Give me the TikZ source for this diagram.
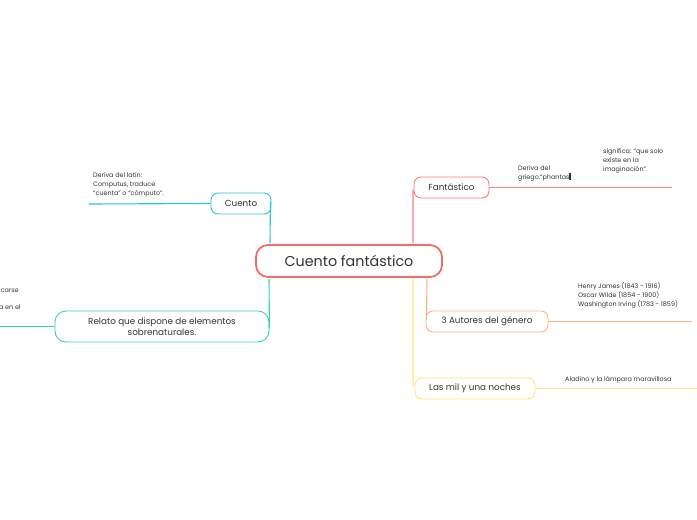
\documentclass[tikz,border=0pt]{standalone}
\usepackage{fontspec}
\setmainfont{Poppins}
\definecolor{cred}{HTML}{F26B6B}
\definecolor{ccyan}{HTML}{2CC3D8}
\definecolor{cgreen}{HTML}{3CD3A2}
\definecolor{cfant}{HTML}{F57E7E}
\definecolor{corange}{HTML}{FFB07E}
\definecolor{cyellow}{HTML}{FFE57A}
\definecolor{ctext}{HTML}{333333}
\begin{document}
\begin{tikzpicture}[x=1pt,y=-1pt,
  every node/.style={text=ctext, inner sep=0pt},
  branch/.style={line width=0.9pt, rounded corners=7pt, fill=white, font=\fontsize{8.8}{10.5}\selectfont},
  note/.style={anchor=north west, align=left, font=\fontsize{6.4}{9.3}\selectfont},
  conn/.style={line width=1.1pt},
  lead/.style={line width=1.1pt}]
\useasboundingbox (0,0) rectangle (697,520);
\fill[white] (0,0) rectangle (697,520);

% central node
\node[draw=cred, line width=1.8pt, rounded corners=12pt, fill=white,
      minimum width=186pt, minimum height=32pt,
      font=\fontsize{14.3}{16}\selectfont] (center) at (349,261) {Cuento fantástico};

% branch nodes
\node[branch, draw=ccyan, minimum width=60pt, minimum height=21pt] (cuento) at (241,203.5) {Cuento};
\node[branch, draw=cgreen, minimum width=214pt, minimum height=31pt, align=center, rounded corners=11pt] (relato) at (162,326.5) {Relato que dispone de elementos\\sobrenaturales.};
\node[branch, draw=cfant, minimum width=75pt, minimum height=21pt] (fant) at (451.5,187.5) {Fantástico};
\node[branch, draw=corange, minimum width=122pt, minimum height=21pt] (autores) at (487,321.5) {3 Autores del género};
\node[branch, draw=cyellow, minimum width=120pt, minimum height=21pt] (mil) at (475,388.5) {Las mil y una noches};

% connectors from centre
\draw[conn, draw=ccyan] ([xshift=-79pt,yshift=1pt]center.north) -- ([xshift=-1pt,yshift=2pt]cuento.east);
\draw[conn, draw=cgreen] ([xshift=-80pt,yshift=-1pt]center.south) -- ([yshift=-2pt]relato.east);
\draw[conn, draw=cfant] ([xshift=64pt,yshift=1pt]center.north) -- ([xshift=-0.6pt,yshift=-2pt]fant.west);
\draw[conn, draw=cyellow] ([xshift=64pt,yshift=-1pt]center.south) -- ([xshift=-1.5pt,yshift=2pt]mil.west);
\draw[conn, draw=corange] ([xshift=78pt,yshift=-1pt]center.south) -- ([xshift=1pt,yshift=2pt]autores.west);

% leads
\coordinate (cuentoL) at (89,204);
\coordinate (relatoL) at (0,326.5);
\coordinate (fantR) at (672,187.5);
\coordinate (autoresR) at (692,321.5);
\coordinate (milR) at (697,388.5);
\draw[lead, draw=ccyan] (cuento.west) -- (cuentoL);
\draw[lead, draw=cgreen] (relato.west) -- (relatoL);
\draw[lead, draw=cfant] (fant.east) -- (fantR);
\draw[lead, draw=corange] (autores.east) -- (autoresR);
\draw[lead, draw=cyellow] (mil.east) -- (milR);

% notes
\node[note] (n1) at (93,172) {Deriva del latín:\\Computus, traduce\\“cuenta” o “cómputo”.};
\node[note] (n2) at (518,165) {Deriva del\\griego.“phantas\rule[-0.8pt]{1.8pt}{7pt}};
\node[note] (n3) at (603,148) {significa: “que solo\\existe en la\\imaginación”.};
\node[note] (n4) at (578,282) {Henry James (1843 - 1916)\\Oscar Wilde (1854 - 1900)\\Washington Irving (1783 - 1859)};
\node[note] (n5) at (565,376) {Aladino y la lámpara maravillosa};
\node[note] (n6) at (-1,287) {icarse};
\node[note] (n7) at (-1,305) {a en el};
\end{tikzpicture}
\end{document}
